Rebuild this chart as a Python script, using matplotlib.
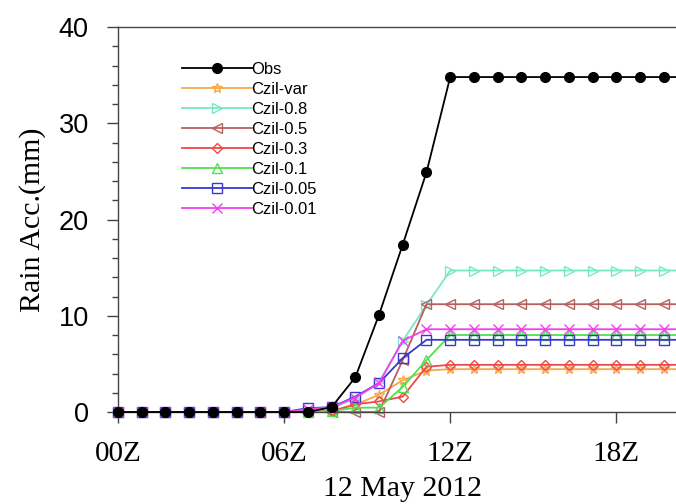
import matplotlib
matplotlib.use("Agg")
import matplotlib.pyplot as plt
from matplotlib.ticker import MultipleLocator
import numpy as np

# hourly-ish output steps (index), labels every 7 steps
steps = np.arange(25)
tick_pos = [0, 7, 14, 21]
tick_labels = ["00Z", "06Z", "12Z", "18Z"]

obs = [0, 0, 0, 0, 0, 0, 0, 0, 0, 0.5, 3.6, 10.1, 17.4, 24.9] + [34.8] * 11
czil_var = [0] * 9 + [0.0, 0.75, 1.8, 3.3, 4.3] + [4.45] * 11
czil_08 = [0] * 8 + [0.2, 0.4, 1.4, 3.1, 7.4, 11.1] + [14.7] * 11
czil_05 = [0] * 12 + [5.4] + [11.2] * 12
czil_03 = [0] * 9 + [0.1, 0.8, 1.1, 1.6, 4.7] + [4.9] * 11
czil_01 = [0] * 9 + [0.1, 0.45, 0.45, 2.6, 5.4] + [8.0] * 11
czil_005 = [0] * 8 + [0.4, 0.5, 1.6, 3.0, 5.6, 7.5] + [7.5] * 11
czil_001 = [0] * 8 + [0.3, 0.5, 1.5, 3.0, 7.4, 8.6] + [8.6] * 11

series = [
    ("Czil-var", czil_var, "#F5A94A", "*"),
    ("Czil-0.8", czil_08, "#77E8C8", ">"),
    ("Czil-0.5", czil_05, "#B86060", "<"),
    ("Czil-0.3", czil_03, "#F04848", "D"),
    ("Czil-0.1", czil_01, "#50E050", "^"),
    ("Czil-0.05", czil_005, "#3838D0", "s"),
    ("Czil-0.01", czil_001, "#F040F0", "x"),
]

fig = plt.figure(figsize=(6.76, 5.04), dpi=100)
ax = fig.add_axes([118 / 676, 92 / 504, 569.5 / 676, 385 / 504])

ax.plot(steps, obs, color="black", lw=1.3, marker="o", ms=7, mfc="black",
        label="Obs", clip_on=False, zorder=5)
for label, values, color, marker in series:
    ms = 5 if marker == "D" else 7
    ax.plot(steps, values, color=color, lw=1.3, marker=marker, ms=ms,
            mfc="none", mec=color, mew=1.0, label=label, clip_on=False)

ax.set_xlim(0, 24)
ax.set_ylim(0, 40)
ax.set_xticks(tick_pos)
ax.set_xticklabels(tick_labels, family="Liberation Serif", fontsize=21)
ax.yaxis.set_major_locator(MultipleLocator(10))
ax.yaxis.set_minor_locator(MultipleLocator(2))
for lab in ax.get_yticklabels():
    lab.set_family("Liberation Sans")
    lab.set_fontsize(19.5)
ax.tick_params(axis="y", which="major", direction="out", length=8, width=1,
               pad=13, color="#444444")
ax.tick_params(axis="y", which="minor", direction="out", length=4, width=1,
               color="#444444")
ax.tick_params(axis="x", which="major", direction="out", length=8, width=1,
               pad=13, color="#444444")
for side in ["left", "top", "bottom", "right"]:
    ax.spines[side].set_color("#444444")
    ax.spines[side].set_linewidth(1.0)

ax.set_ylabel("Rain Acc.(mm)", family="Liberation Serif", fontsize=21.5, labelpad=9)
ax.set_xlabel("12 May 2012", family="Liberation Serif", fontsize=21.5, labelpad=6)

ax.legend(loc="upper left", bbox_to_anchor=(0.1, 0.927), frameon=False,
          prop={"family": "Liberation Sans", "size": 12}, handlelength=4.2,
          handletextpad=0.0, labelspacing=0.3, borderaxespad=0)

fig.savefig("out.png", dpi=100)
